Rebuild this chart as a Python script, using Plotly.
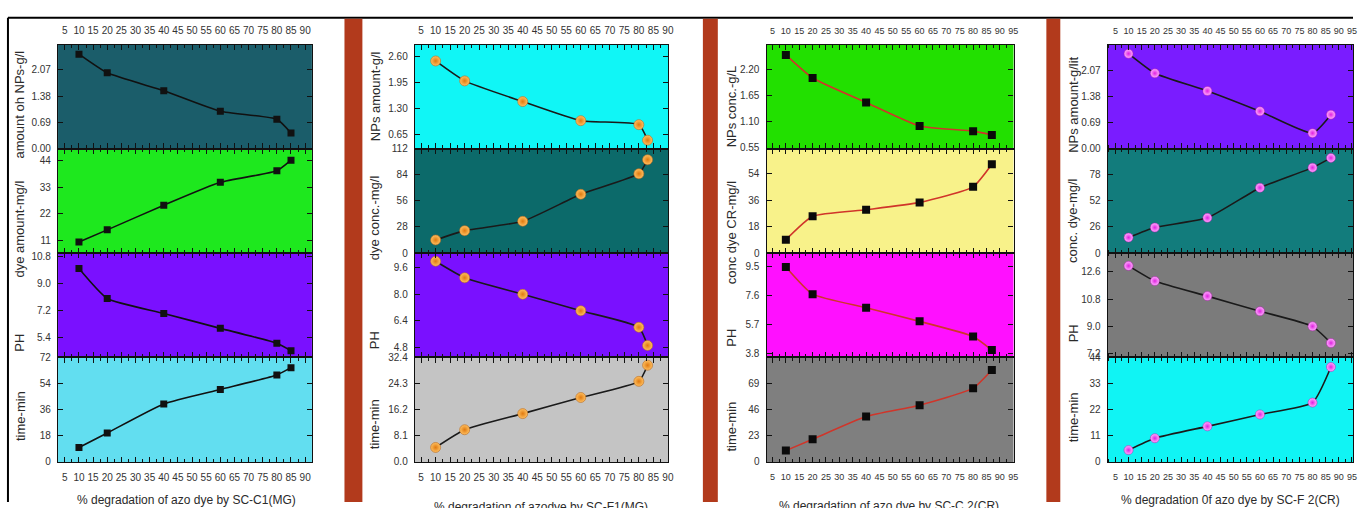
import plotly.graph_objects as go

W, H = 1359, 508

# ---------------- data ----------------
x_ticks = [5, 10, 15, 20, 25, 30, 35, 40, 45, 50, 55, 60, 65, 70, 75, 80, 85, 90, 95]

x_p1 = [10, 20, 40, 60, 80, 85]
p1_nps = [2.48, 1.99, 1.52, 0.98, 0.77, 0.41]
p1_dye = [10.3, 15.3, 25.5, 35.0, 39.8, 44.2]
p1_ph = [10.0, 8.0, 7.0, 6.0, 5.0, 4.5]
p1_time = [10, 20, 40, 50, 60, 65]

x_p2 = [10, 20, 40, 60, 80, 83]
p2_nps = [2.50, 2.00, 1.48, 1.00, 0.90, 0.51]
p2_dye = [14, 24, 34, 63, 85, 100]
p2_ph = [10.0, 9.0, 8.0, 7.0, 6.0, 4.9]
p2_time = [4.5, 10, 15, 20, 25, 30]

x_p3 = [10, 20, 40, 60, 80, 87]
p3_nps = [2.52, 2.03, 1.51, 1.01, 0.90, 0.82]
p3_dye = [9, 25, 29.4, 34.4, 45, 60.3]
p3_ph = [9.5, 7.7, 6.8, 5.9, 4.9, 4.0]
p3_time = [10, 20, 40, 50, 65, 81]

x_p4 = [10, 20, 40, 60, 80, 87]
p4_nps = [2.52, 2.00, 1.53, 0.99, 0.41, 0.90]
p4_dye = [15.4, 25.4, 35, 65, 85, 94.7]
p4_ph = [13.0, 12.0, 11.0, 10.0, 9.0, 7.9]
p4_time = [5, 10, 15, 20, 25, 40]

p1_nps_ticks = [0.00, 0.69, 1.38, 2.07]
p1_dye_ticks = [11, 22, 33, 44]
p1_ph_ticks = [5.4, 7.2, 9.0, 10.8]
p1_time_ticks = [0, 18, 36, 54, 72]
p2_nps_ticks = [0.65, 1.30, 1.95, 2.60]
p2_dye_ticks = [0, 28, 56, 84, 112]
p2_ph_ticks = [4.8, 6.4, 8.0, 9.6]
p2_time_ticks = [0.0, 8.1, 16.2, 24.3, 32.4]
p3_nps_ticks = [0.55, 1.10, 1.65, 2.20]
p3_dye_ticks = [0, 18, 36, 54]
p3_ph_ticks = [3.8, 5.7, 7.6, 9.5]
p3_time_ticks = [0, 23, 46, 69]
p4_nps_ticks = [0.00, 0.69, 1.38, 2.07]
p4_dye_ticks = [0, 26, 52, 78]
p4_ph_ticks = [7.2, 9.0, 10.8, 12.6]
p4_time_ticks = [0, 11, 22, 33, 44]

p1_ytitles = ["amount oh NPs-g/l", "dye amount-mg/l", "PH", "time-min"]
p2_ytitles = ["NPs amount-g/l", "dye conc.-mg/l", "PH", "time-min"]
p3_ytitles = ["NPs conc.-g/L", "conc dye CR-mg/l", "PH", "time-min"]
p4_ytitles = ["NPs amount-g/lit", "conc. dye-mg/l", "PH", "time-min"]
x_titles = ["% degradation of azo dye by SC-C1(MG)",
            "% degradation of azodye by SC-F1(MG)",
            "% degradation of azo dye by SC-C 2(CR)",
            "% degradation 0f azo dye by SC-F 2(CR)"]

# ---------------- layout / styles ----------------
row_px = [40, 146, 253, 360, 467]

panels = [
    dict(x=x_p1, ys=[p1_nps, p1_dye, p1_ph, p1_time],
         ticks=[p1_nps_ticks, p1_dye_ticks, p1_ph_ticks, p1_time_ticks],
         fmts=["{:.2f}", "{:g}", "{:.1f}", "{:g}"],
         yranges=[[0, 2.72], [5.7, 49], [4.05, 11.04], [0, 72]],
         xpx=[58.3, 313.3], xrange=[2.6, 92.4], xfs=10,
         bgs=["#1b5d6a", "#1ee81e", "#7a10ff", "#62def0"],
         line="#111111", marker=dict(symbol="square", size=7, color="#111111"),
         ytitles=p1_ytitles, ytx=20, yty=[101, 228, 345, 420],
         xt=(187, 506)),
    dict(x=x_p2, ys=[p2_nps, p2_dye, p2_ph, p2_time],
         ticks=[p2_nps_ticks, p2_dye_ticks, p2_ph_ticks, p2_time_ticks],
         fmts=["{:.2f}", "{:g}", "{:.1f}", "{:.1f}"],
         yranges=[[0.3, 2.9], [0, 112], [4.17, 10.5], [0, 32.4]],
         xpx=[416.7, 671], xrange=[2.85, 90.05], xfs=10,
         bgs=["#10f6f6", "#0c6a6a", "#7a10ff", "#c4c4c4"],
         line="#1a1a1a",
         marker=dict(symbol="circle", size=10, color="#ffc060",
                     gradient=dict(type="radial", color="#e07a10"),
                     line=dict(width=0.6, color="#b86a20")),
         ytitles=p2_ytitles, ytx=377, yty=[92, 217, 342, 428],
         xt=(543, 513)),
    dict(x=x_p3, ys=[p3_nps, p3_dye, p3_ph, p3_time],
         ticks=[p3_nps_ticks, p3_dye_ticks, p3_ph_ticks, p3_time_ticks],
         fmts=["{:.2f}", "{:g}", "{:.1f}", "{:g}"],
         yranges=[[0.53, 2.73], [0, 71], [3.51, 10.42], [0, 92]],
         xpx=[770, 1018], xrange=[2.8, 95.1], xfs=9,
         bgs=["#22e000", "#f8f28a", "#ff10ff", "#7f7f7f"],
         line="#d0352a", marker=dict(symbol="square", size=8, color="#0a0a0a"),
         ytitles=p3_ytitles, ytx=735, yty=[103, 232, 340, 431],
         xt=(893, 512)),
    dict(x=x_p4, ys=[p4_nps, p4_dye, p4_ph, p4_time],
         ticks=[p4_nps_ticks, p4_dye_ticks, p4_ph_ticks, p4_time_ticks],
         fmts=["{:.2f}", "{:g}", "{:.1f}", "{:g}"],
         yranges=[[0, 2.75], [0, 104], [6.94, 13.85], [0, 44]],
         xpx=[1112.7, 1359], xrange=[2.1, 95.4], xfs=9,
         bgs=["#7a1cff", "#127c7c", "#7b7b7b", "#10f4f4"],
         line="#1a1a1a",
         marker=dict(symbol="circle", size=9, color="#ffb0ff",
                     gradient=dict(type="radial", color="#e020e0"),
                     line=dict(width=0.5, color="#b010b0")),
         ytitles=p4_ytitles, ytx=1078, yty=[101, 220, 335, 421],
         xt=(1236, 506)),
]

tick_font = dict(family="Liberation Sans, Arial, sans-serif", size=10, color="#333333")
title_font = dict(family="Liberation Sans, Arial, sans-serif", size=13, color="#2a2a2a")

fig = go.Figure()
layout = {}
shapes = []
annotations = []

def px_x(p):
    return p / W

def px_y(p):
    return 1 - p / H

k = 0
for pi, P in enumerate(panels):
    for r in range(4):
        k += 1
        xa = f"xaxis{k}" if k > 1 else "xaxis"
        ya = f"yaxis{k}" if k > 1 else "yaxis"
        xr = f"x{k}" if k > 1 else "x"
        yr = f"y{k}" if k > 1 else "y"
        fig.add_trace(go.Scatter(
            x=P["x"], y=P["ys"][r], xaxis=xr, yaxis=yr, mode="lines+markers",
            line=dict(color=P["line"], width=1.6, shape="spline", smoothing=0.5),
            marker=P["marker"], showlegend=False, hoverinfo="skip"))
        show_lab = r in (0, 3)
        layout[xa] = dict(
            domain=[px_x(P["xpx"][0]), px_x(P["xpx"][1])], anchor=yr,
            range=P["xrange"], tickmode="array", tickvals=x_ticks,
            ticktext=[str(v) for v in x_ticks], tickangle=0,
            ticks="inside", ticklen=5, tickwidth=1, tickcolor="#111",
            minor=dict(ticks="inside", ticklen=3, dtick=2.5, tick0=0, tickcolor="#111"),
            showline=True, linecolor="#111", linewidth=1.3, mirror="allticks",
            showgrid=False, zeroline=False, showticklabels=show_lab,
            side="top" if r == 0 else "bottom",
            tickfont=dict(tick_font, size=P["xfs"]),
            ticklabelstandoff=6)
        tv = P["ticks"][r]
        layout[ya] = dict(
            domain=[px_y(row_px[r + 1]), px_y(row_px[r])], anchor=xr,
            range=P["yranges"][r], tickmode="array", tickvals=tv,
            ticktext=[P["fmts"][r].format(v) for v in tv],
            ticks="inside", ticklen=5, tickwidth=1, tickcolor="#111",
            showline=True, linecolor="#111", linewidth=1.3, mirror="allticks",
            showgrid=False, zeroline=False, tickfont=tick_font,
            ticklabelstandoff=4)
        shapes.append(dict(type="rect", xref=f"{xr} domain", yref=f"{yr} domain",
                           x0=0, x1=1, y0=0, y1=1, fillcolor=P["bgs"][r],
                           line=dict(width=0), layer="below"))
        annotations.append(dict(text=P["ytitles"][r], xref="paper", yref="paper",
                                x=px_x(P["ytx"]), y=px_y(P["yty"][r]),
                                xanchor="center", yanchor="middle", textangle=-90,
                                showarrow=False, font=title_font))
    annotations.append(dict(text=x_titles[pi], xref="paper", yref="paper",
                            x=px_x(P["xt"][0]), y=px_y(P["xt"][1]),
                            xanchor="center", yanchor="middle", showarrow=False,
                            font=dict(family="Liberation Sans, Arial, sans-serif",
                                      size=12, color="#2a2a2a")))

# frame lines and separator bars
shapes.append(dict(type="line", xref="paper", yref="paper", x0=px_x(8), x1=1,
                   y0=px_y(12), y1=px_y(12), line=dict(color="#000", width=2)))
shapes.append(dict(type="line", xref="paper", yref="paper", x0=px_x(8), x1=px_x(8),
                   y0=px_y(12), y1=0, line=dict(color="#000", width=2)))
for b0, b1 in [(346, 364), (706, 721), (1051, 1065)]:
    shapes.append(dict(type="rect", xref="paper", yref="paper", x0=px_x(b0), x1=px_x(b1),
                       y0=0, y1=px_y(13), fillcolor="#b23a1c", line=dict(width=0)))

layout.update(dict(width=W, height=H, margin=dict(l=0, r=0, t=0, b=0),
                   paper_bgcolor="white", plot_bgcolor="rgba(0,0,0,0)",
                   showlegend=False, shapes=shapes, annotations=annotations))
fig.update_layout(**layout)
fig.write_html("out.html")
